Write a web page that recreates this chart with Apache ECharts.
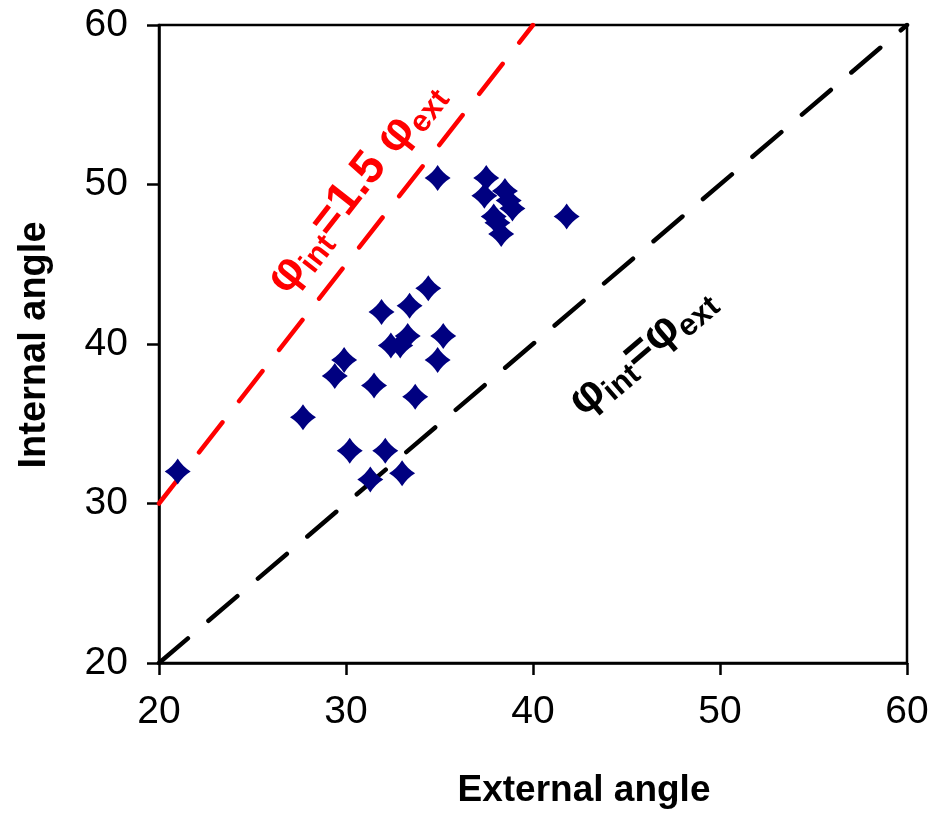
<!DOCTYPE html>
<html>
<head>
<meta charset="utf-8">
<script src="https://cdn.jsdelivr.net/npm/echarts@6/dist/echarts.min.js"></script>
<style>
  html, body { margin: 0; padding: 0; background: #ffffff; }
  #chart { width: 942px; height: 813px; }
</style>
</head>
<body>
<div id="chart"></div>
<script>
// Measured friction angles (degrees)
const externalAngle = [21.0, 27.7, 29.4, 29.9, 30.2, 31.3, 31.5, 31.9, 32.1, 32.4, 32.9, 33.0, 33.3, 33.4, 33.7, 34.4, 34.9, 35.2,
                       34.9, 37.5, 37.4, 38.5, 38.9, 37.9, 38.1, 38.3, 38.7, 41.8];
const internalAngle = [32.0, 35.4, 38.0, 39.0, 33.3, 31.5, 37.4, 42.0, 33.3, 39.9, 39.9, 31.9, 40.5, 42.4, 36.7, 43.5, 39.0, 40.5,
                       50.4, 50.4, 49.3, 49.6, 48.5, 48.0, 47.6, 46.9, 49.0, 48.0];

// Reference lines: phi_int = 1.5 phi_ext and phi_int = phi_ext
const ratioLineX = [20, 40];
const ratioLineY = [30, 60];
const equalLineX = [20, 60];
const equalLineY = [20, 60];

// Axis ticks
const xTicks = [20, 30, 40, 50, 60];
const yTicks = [20, 30, 40, 50, 60];

const xTitle = 'External angle';
const yTitle = 'Internal angle';

const scatterData = externalAngle.map((x, i) => [x, internalAngle[i]]);
const ratioData = ratioLineX.map((x, i) => [x, ratioLineY[i]]);
const equalData = equalLineX.map((x, i) => [x, equalLineY[i]]);

const FONT = '"Liberation Sans", Arial, sans-serif';
const NAVY = '#000080';

// Slightly pinched diamond marker
const diamondPath = 'path://M0,-1 Q0.38,-0.38 1,0 Q0.38,0.38 0,1 Q-0.38,0.38 -1,0 Q-0.38,-0.38 0,-1 Z';

const chart = echarts.init(document.getElementById('chart'), null, { renderer: 'canvas' });

const axisCommon = {
  type: 'value',
  splitLine: { show: false },
  axisLine: { show: true, onZero: false, lineStyle: { color: '#000', width: 2.5 } },
  axisTick: { show: true, inside: false, length: 12, lineStyle: { color: '#000', width: 2.5 } },
  axisLabel: { color: '#000', fontSize: 39, fontFamily: FONT }
};

chart.setOption({
  animation: false,
  backgroundColor: '#ffffff',
  grid: { left: 159, right: 35, top: 25, bottom: 150, show: true, borderColor: '#000', borderWidth: 2.5, containLabel: false },
  xAxis: Object.assign({}, axisCommon, {
    min: xTicks[0], max: xTicks[xTicks.length - 1], interval: xTicks[1] - xTicks[0],
    axisLabel: Object.assign({}, axisCommon.axisLabel, { margin: 30 })
  }),
  yAxis: Object.assign({}, axisCommon, {
    min: yTicks[0], max: yTicks[yTicks.length - 1], interval: yTicks[1] - yTicks[0],
    axisLabel: Object.assign({}, axisCommon.axisLabel, { margin: 31 })
  }),
  series: [
    {
      type: 'line', data: ratioData, showSymbol: false, z: 2,
      lineStyle: { color: '#ff0000', width: 4.5, type: [38, 27], cap: 'round' }
    },
    {
      type: 'line', data: equalData, showSymbol: false, z: 2,
      lineStyle: { color: '#000000', width: 4.5, type: [38, 27], cap: 'round' }
    },
    {
      type: 'scatter', data: scatterData, symbol: diamondPath, symbolSize: 26, z: 3,
      itemStyle: { color: NAVY, opacity: 1 }
    }
  ]
});

// Rotated equation labels set along each reference line
function lineAngle(a, b) {
  const p1 = chart.convertToPixel({ gridIndex: 0 }, a);
  const p2 = chart.convertToPixel({ gridIndex: 0 }, b);
  return Math.atan2(p1[1] - p2[1], p2[0] - p1[0]);
}

function eqStyle(text, color, M, S) {
  const P = 0.97 * M - 0.8 * S;
  return {
    text: text,
    align: 'center',
    verticalAlign: 'middle',
    rich: {
      p: { fontSize: M, fontWeight: 'bold', fontFamily: FONT, lineHeight: M, verticalAlign: 'top', fill: color },
      s: { fontSize: S, fontWeight: 'bold', fontFamily: FONT, lineHeight: S, verticalAlign: 'top', padding: [P, 0, 0, 0], fill: color }
    }
  };
}

const redAnchor = chart.convertToPixel({ gridIndex: 0 }, [30.48, 49.84]);
const blackAnchor = chart.convertToPixel({ gridIndex: 0 }, [45.8, 39.6]);
const redAng = lineAngle(ratioData[0], ratioData[1]);
const blackAng = lineAngle(equalData[0], equalData[1]);

chart.setOption({
  graphic: [
    {
      type: 'text', x: redAnchor[0], y: redAnchor[1], rotation: redAng, z: 10,
      style: eqStyle('{p|φ}{s|int}{p|=1.5 φ}{s|ext}', '#ff0000', 47, 31)
    },
    {
      type: 'text', x: blackAnchor[0], y: blackAnchor[1], rotation: blackAng, z: 10,
      style: eqStyle('{p|φ}{s|int}{p|=φ}{s|ext}', '#000000', 46, 31)
    },
    {
      type: 'text', x: 584, y: 791, z: 10,
      style: { text: xTitle, fontSize: 37, fontWeight: 'bold', fontFamily: FONT, fill: '#000', align: 'center', verticalAlign: 'middle' }
    },
    {
      type: 'text', x: 35, y: 345, rotation: Math.PI / 2, z: 10,
      style: { text: yTitle, fontSize: 38, fontWeight: 'bold', fontFamily: FONT, fill: '#000', align: 'center', verticalAlign: 'middle' }
    }
  ]
});
</script>
</body>
</html>
